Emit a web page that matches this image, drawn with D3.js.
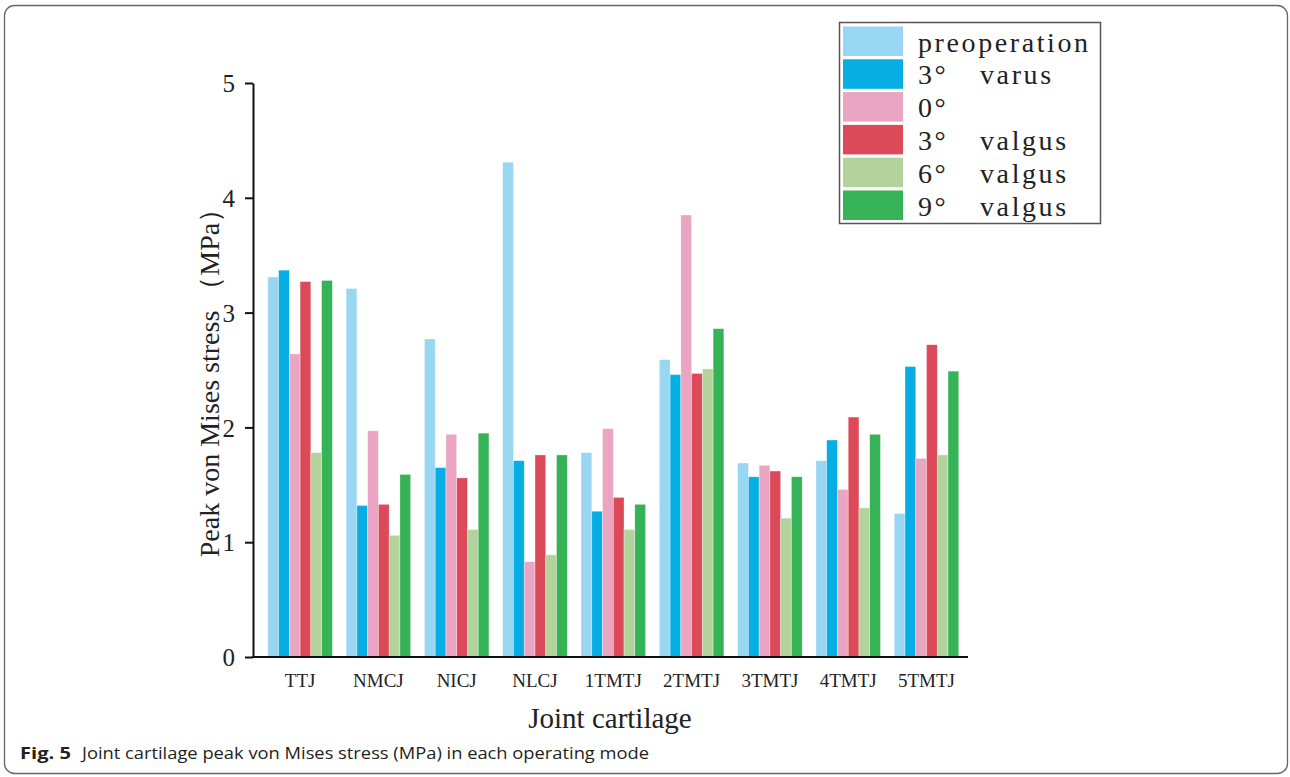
<!DOCTYPE html>
<html>
<head>
<meta charset="utf-8">
<script src="https://cdn.jsdelivr.net/npm/d3@7"></script>
<style>
  html, body { margin: 0; padding: 0; background: #fff; }
  svg { display: block; }
</style>
</head>
<body>
<svg id="chart"></svg>
<script>
const width = 1290;
const height = 777;

// joints on the x axis
const joints = ['TTJ', 'NMCJ', 'NICJ', 'NLCJ', '1TMTJ', '2TMTJ', '3TMTJ', '4TMTJ', '5TMTJ'];
// operating modes (legend)
const modes = ['preoperation', '3°  varus', '0°', '3°  valgus', '6°  valgus', '9°  valgus'];
const modeColors = ['#99d6f1', '#07aee3', '#eaa5c2', '#dc4a5a', '#b3d39c', '#36b257'];

// peak von Mises stress (MPa), one array per mode, in joint order
const preoperation = [3.31, 3.21, 2.77, 4.31, 1.78, 2.59, 1.69, 1.71, 1.25];
const varus3 = [3.37, 1.32, 1.65, 1.71, 1.27, 2.46, 1.57, 1.89, 2.53];
const neutral0 = [2.64, 1.97, 1.94, 0.83, 1.99, 3.85, 1.67, 1.46, 1.73];
const valgus3 = [3.27, 1.33, 1.56, 1.76, 1.39, 2.47, 1.62, 2.09, 2.72];
const valgus6 = [1.78, 1.06, 1.11, 0.89, 1.11, 2.51, 1.21, 1.30, 1.76];
const valgus9 = [3.28, 1.59, 1.95, 1.76, 1.33, 2.86, 1.57, 1.94, 2.49];
const yTicks = [0, 1, 2, 3, 4, 5];

const seriesValues = [preoperation, varus3, neutral0, valgus3, valgus6, valgus9];
const rows = joints.map((j, i) => ({
    joint: j,
    values: modes.map((m, k) => ({ mode: m, k: k, value: seriesValues[k][i] }))
}));

const serif = '"Liberation Serif", "Times New Roman", serif';

const svg = d3.select('#chart')
    .attr('width', width)
    .attr('height', height);

// outer figure frame
svg.append('rect')
    .attr('x', 4.5).attr('y', 5.5)
    .attr('width', 1283).attr('height', 768)
    .attr('rx', 10).attr('ry', 10)
    .attr('fill', 'none')
    .attr('stroke', '#666')
    .attr('stroke-width', 1.3);

const x0 = d3.scaleBand()
    .domain(joints)
    .range([260, 966.6])
    .paddingInner(0.176)
    .paddingOuter(0.1);

const x1 = d3.scaleBand()
    .domain(d3.range(modes.length))
    .range([0, x0.bandwidth()]);

const y = d3.scaleLinear()
    .domain([0, 5])
    .range([657, 83]);

const axisX = 253;

// bars
const group = svg.append('g').selectAll('g')
    .data(rows)
    .enter().append('g')
    .attr('transform', d => `translate(${x0(d.joint)},0)`);

group.selectAll('rect')
    .data(d => d.values)
    .enter().append('rect')
    .attr('x', d => x1(d.k))
    .attr('y', d => y(d.value))
    .attr('width', x1.bandwidth())
    .attr('height', d => y(0) - y(d.value))
    .attr('fill', d => modeColors[d.k])
    .attr('stroke', 'rgba(255,255,255,0.55)')
    .attr('stroke-width', 0.6);

// y axis
const yAxis = svg.append('g')
    .attr('transform', `translate(${axisX},0)`)
    .call(d3.axisLeft(y).tickValues(yTicks).tickFormat(d3.format('d'))
        .tickSize(8).tickSizeOuter(0).tickPadding(10));

yAxis.select('.domain').attr('stroke', '#111').attr('stroke-width', 2);
yAxis.selectAll('.tick line').attr('stroke', '#111').attr('stroke-width', 2);
yAxis.selectAll('.tick text')
    .style('font-family', serif)
    .style('font-size', '25px')
    .attr('fill', '#222')
    .attr('dy', '0.35em');

// x axis
const xAxis = svg.append('g')
    .attr('transform', `translate(0,${y(0)})`)
    .call(d3.axisBottom(x0).tickSize(0).tickPadding(17));

xAxis.select('.domain').remove();
xAxis.selectAll('.tick text')
    .style('font-family', serif)
    .style('font-size', '19px')
    .attr('fill', '#222');

svg.append('line')
    .attr('x1', axisX - 1).attr('x2', 968)
    .attr('y1', y(0)).attr('y2', y(0))
    .attr('stroke', '#111')
    .attr('stroke-width', 2);

// axis titles
svg.append('text')
    .attr('transform', `translate(219,376) rotate(-90)`)
    .attr('text-anchor', 'middle')
    .style('font-family', serif)
    .style('font-size', '28px')
    .attr('fill', '#222')
    .text('Peak von Mises stress （MPa）');

svg.append('text')
    .attr('x', 610).attr('y', 728)
    .attr('text-anchor', 'middle')
    .style('font-family', serif)
    .style('font-size', '29px')
    .attr('fill', '#222')
    .text('Joint cartilage');

// legend
const legend = svg.append('g');
legend.append('rect')
    .attr('x', 839.5).attr('y', 22.5)
    .attr('width', 261).attr('height', 201)
    .attr('fill', '#fff')
    .attr('stroke', '#555')
    .attr('stroke-width', 1.5);

const item = legend.selectAll('g.item')
    .data(modes)
    .enter().append('g')
    .attr('class', 'item')
    .attr('transform', (d, i) => `translate(843,${26.5 + i * 32.8})`);

item.append('rect')
    .attr('width', 60)
    .attr('height', 29.5)
    .attr('fill', (d, i) => modeColors[i]);

item.each(function (d) {
    const parts = d.split(/\s+/);
    const t = d3.select(this).append('text')
        .attr('y', 25)
        .style('font-family', serif)
        .style('font-size', '28px')
        .style('letter-spacing', '2.6px')
        .attr('fill', '#222');
    t.append('tspan').attr('x', 75).text(parts[0]);
    if (parts[1]) t.append('tspan').attr('x', 137).text(parts[1]);
});

// caption
const caption = svg.append('text')
    .attr('x', 20).attr('y', 759)
    .style('font-family', '"Open Sans", "Noto Sans", sans-serif')
    .style('font-size', '16px')
    .attr('fill', '#231f20');
caption.append('tspan')
    .style('font-weight', 'bold')
    .attr('textLength', 51)
    .attr('lengthAdjust', 'spacingAndGlyphs')
    .text('Fig. 5');
caption.append('tspan')
    .attr('x', 82)
    .attr('textLength', 567)
    .attr('lengthAdjust', 'spacingAndGlyphs')
    .text('Joint cartilage peak von Mises stress (MPa) in each operating mode');
</script>
</body>
</html>
